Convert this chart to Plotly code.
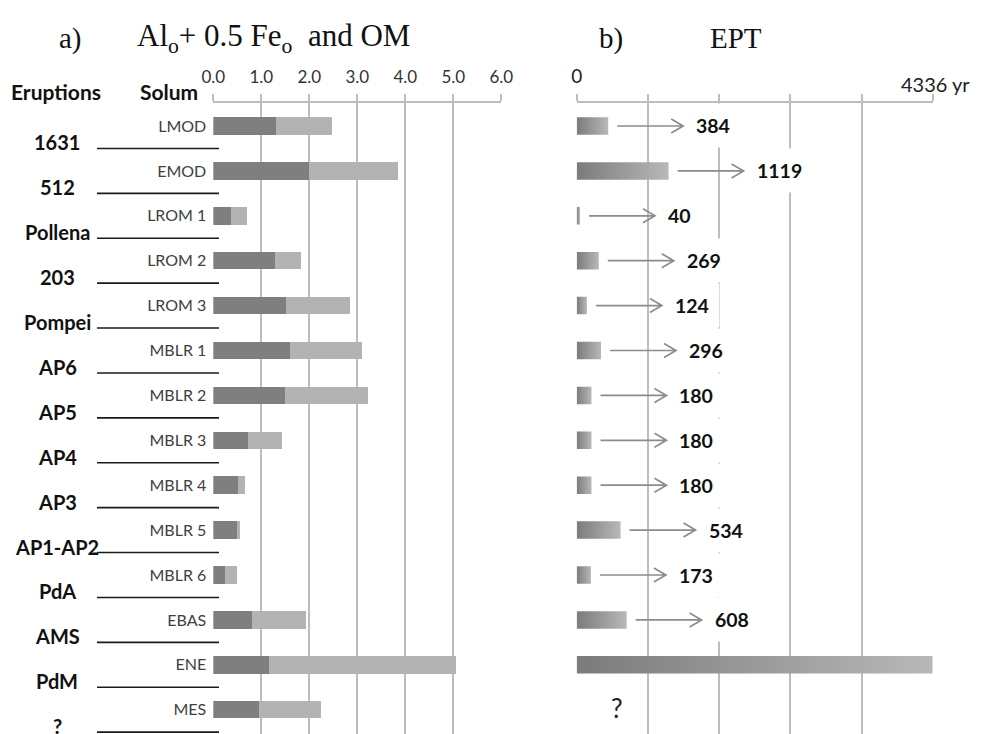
import plotly.graph_objects as go

# ---------------- data ----------------
eruptions = ["1631", "512", "Pollena", "203", "Pompei", "AP6", "AP5", "AP4",
             "AP3", "AP1-AP2", "PdA", "AMS", "PdM", "?"]
solum = ["LMOD", "EMOD", "LROM 1", "LROM 2", "LROM 3", "MBLR 1", "MBLR 2",
         "MBLR 3", "MBLR 4", "MBLR 5", "MBLR 6", "EBAS", "ENE", "MES"]
al_fe = [1.32, 2.00, 0.375, 1.29, 1.52, 1.60, 1.50, 0.72, 0.53, 0.51, 0.24, 0.81, 1.17, 0.96]
om = [1.15, 1.85, 0.33, 0.54, 1.33, 1.50, 1.72, 0.72, 0.13, 0.05, 0.26, 1.12, 3.89, 1.29]
ept_values = [384, 1119, 40, 269, 124, 296, 180, 180, 180, 534, 173, 608, 4336, 0]
ept_labels = ["384", "1119", "40", "269", "124", "296", "180", "180", "180",
              "534", "173", "608", "", "?"]
ept_max = 4336
left_ticks = [0, 1, 2, 3, 4, 5, 6]

# ---------------- geometry helpers ----------------
W, H = 982, 734
OFF = 8  # default page margin around the plot div


def fx(p):
    return (p - OFF) / W


def fy(p):
    return 1 - (p - OFF) / H


rows = list(range(len(solum)))
row0_px, row_px = 126.0 - OFF, 44.9
top_px = 103.0 - OFF
y_top = (top_px - row0_px) / row_px
y_bot = (H - row0_px) / row_px
bar_h = 0.39

SANS = "Lato, Carlito, Calibri, sans-serif"
SERIF = "Liberation Serif, Times New Roman, serif"
GRID = "#bdbdbd"

fig = go.Figure()

# left panel stacked bars
fig.add_trace(go.Bar(y=rows, x=al_fe, orientation="h", width=bar_h,
                     marker=dict(color="#7f7f7f", line=dict(width=0)),
                     name="Alo + 0.5 Feo", xaxis="x", yaxis="y"))
fig.add_trace(go.Bar(y=rows, x=om, orientation="h", width=bar_h,
                     marker=dict(color="#b3b3b3", line=dict(width=0)),
                     name="OM", xaxis="x", yaxis="y"))

# right panel gradient bars
for r, v in zip(rows, ept_values):
    if not v:
        continue
    fig.add_trace(go.Scatter(
        x=[0, v, v, 0, 0], y=[r - bar_h / 2, r - bar_h / 2, r + bar_h / 2, r + bar_h / 2, r - bar_h / 2],
        mode="lines", fill="toself",
        fillgradient=dict(type="horizontal", colorscale=[[0, "#7b7b7b"], [1, "#b8b8b8"]]),
        line=dict(width=0, color="rgba(0,0,0,0)"),
        hoverinfo="skip", showlegend=False, xaxis="x2", yaxis="y"))

shapes = []
annotations = []

# arrows + labels in panel b
gap, alen = 9, 66
for r, v, lab in zip(rows, ept_values, ept_labels):
    if lab == "":
        continue
    if lab == "?":
        annotations.append(dict(x=v, xref="x2", y=r, yref="y", text="?", showarrow=False,
                                xanchor="center", xshift=40, yshift=2,
                                font=dict(family=SANS, size=26, color="#222")))
        continue
    end = gap + alen
    shapes.append(dict(type="path", xref="x2", yref="y", xsizemode="pixel", ysizemode="pixel",
                       xanchor=v, yanchor=r,
                       path=f"M{gap},0 L{end},0 M{end-12},7 L{end},0 L{end-12},-7",
                       line=dict(color="#8c8c8c", width=1.7), layer="above"))
    annotations.append(dict(x=v, xref="x2", y=r, yref="y", text=lab, showarrow=False,
                            xanchor="left", xshift=end + 2, bgcolor="white", borderpad=10,
                            font=dict(family=SANS, size=19.5, color="#111", weight=700)))

# eruption separators and labels
for r, e in zip(rows, eruptions):
    yb = r + 0.5
    shapes.append(dict(type="line", xref="paper", yref="y", x0=fx(97), x1=fx(219), y0=yb, y1=yb,
                       line=dict(color="#1a1a1a", width=1.6)))
    annotations.append(dict(x=fx(57), xref="paper", y=yb, yref="y", text=e, showarrow=False,
                            xanchor="center", yanchor="middle", yshift=6,
                            font=dict(family=SANS, size=20, color="#111", weight=700)))

# small overhang of the top axis line left of zero
shapes.append(dict(type="line", xref="x", yref="paper", x0=-0.11, x1=0, y0=fy(103), y1=fy(103),
                   line=dict(color=GRID, width=1.6)))

# headers
annotations += [
    dict(x=fx(56), y=fy(91), xref="paper", yref="paper", text="Eruptions", showarrow=False,
         xanchor="center", yanchor="middle", font=dict(family=SANS, size=21, color="#111", weight=700)),
    dict(x=fx(169), y=fy(91), xref="paper", yref="paper", text="Solum", showarrow=False,
         xanchor="center", yanchor="middle", font=dict(family=SANS, size=21, color="#111", weight=700)),
    dict(x=fx(70), y=fy(38), xref="paper", yref="paper", text="a)", showarrow=False,
         xanchor="center", yanchor="middle", font=dict(family=SERIF, size=29, color="#111")),
    dict(x=fx(135), y=fy(38), xref="paper", yref="paper",
         text="Al<sub>o</sub>+ 0.5 Fe<sub>o</sub>&nbsp; and OM", showarrow=False,
         xanchor="left", yanchor="middle", font=dict(family=SERIF, size=31, color="#111")),
    dict(x=fx(611), y=fy(38), xref="paper", yref="paper", text="b)", showarrow=False,
         xanchor="center", yanchor="middle", font=dict(family=SERIF, size=29, color="#111")),
    dict(x=fx(736), y=fy(38), xref="paper", yref="paper", text="EPT", showarrow=False,
         xanchor="center", yanchor="middle", font=dict(family=SERIF, size=29, color="#111")),
    dict(x=ept_max, xref="x2", y=fy(84), yref="paper", text=f"{ept_max} yr", showarrow=False,
         xanchor="center", yanchor="middle", xshift=3, font=dict(family=SANS, size=20, color="#222")),
]

ept_minor = [ept_max * i / 5 for i in range(1, 6)]
axis_common = dict(showgrid=True, gridcolor=GRID, gridwidth=1.6, zeroline=False,
                   showline=True, linecolor=GRID, linewidth=1.6,
                   ticks="outside", ticklen=7, tickwidth=1.6, tickcolor=GRID,
                   ticklabelstandoff=4,
                   fixedrange=True, automargin=False, side="top", anchor="y")

fig.update_layout(
    width=W, height=H, margin=dict(l=0, r=0, t=0, b=0, pad=0, autoexpand=False),
    paper_bgcolor="white", plot_bgcolor="white",
    barmode="stack", showlegend=False, bargap=0,
    xaxis=dict(domain=[fx(213.3), fx(501.3)], range=[0, 6],
               tickvals=left_ticks, ticktext=[f"{t:.1f}" for t in left_ticks],
               tickfont=dict(family=SANS, size=17, color="#333"), **axis_common),
    xaxis2=dict(domain=[fx(576.7), fx(932.7)], range=[0, ept_max],
                tickvals=[0], ticktext=["0"],
                minor=dict(tickvals=ept_minor, showgrid=True, gridcolor=GRID, gridwidth=1.6,
                           ticks="outside", ticklen=7, tickwidth=1.6, tickcolor=GRID),
                tickfont=dict(family=SANS, size=19, color="#222"), **axis_common),
    yaxis=dict(domain=[0, fy(103)], range=[y_bot, y_top], anchor="x",
               tickvals=rows, ticktext=solum, showgrid=False, zeroline=False, showline=False,
               ticks="", ticklabelstandoff=6, automargin=False,
               tickfont=dict(family=SANS, size=16, color="#404040"), fixedrange=True),
    shapes=shapes, annotations=annotations,
)

fig.write_html("out.html")
